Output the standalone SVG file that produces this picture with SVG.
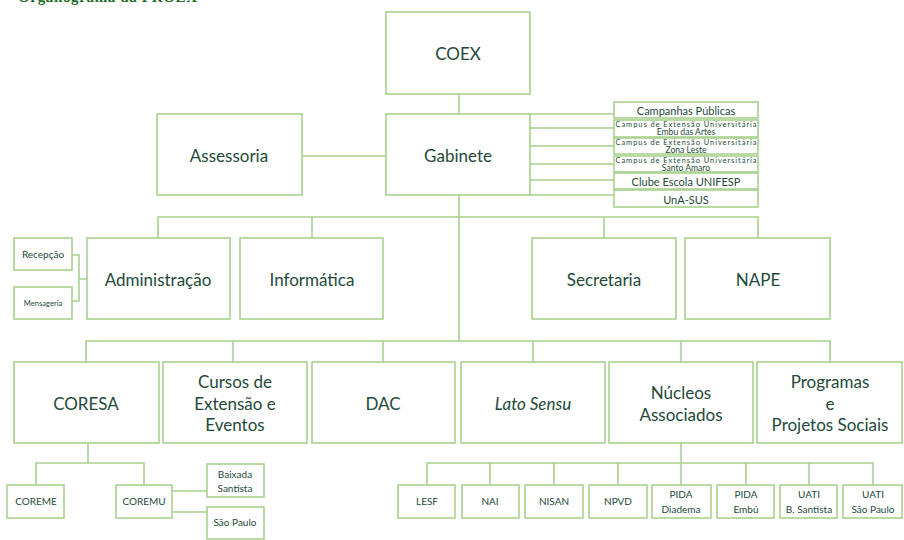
<svg xmlns="http://www.w3.org/2000/svg" width="904" height="540" viewBox="0 0 904 540">
<style>
.b{fill:#fff;stroke:#a9d18e;stroke-width:1.6}
.c{fill:none;stroke:#a9d18e;stroke-width:1.6}
text{font-family:Lato,"Open Sans","Liberation Sans",sans-serif;fill:#24493a;text-anchor:middle;dominant-baseline:central}
.L{font-size:17px}
.m{font-size:11px}
.s{font-size:10px}
.t{font-size:7.4px}
.u{font-size:8.6px}
</style>
<rect width="904" height="540" fill="#fff"/>
<text x="18" y="2" style="font-family:'Liberation Serif','DejaVu Serif',serif;font-weight:bold;font-size:15px;fill:#1c6a26;text-anchor:start;dominant-baseline:alphabetic" textLength="179">Organograma da PROEX</text>
<g id="connectors">
<path class="c" d="M459 94V114M302 156H386M459 195V341M530 114H614M530 128H614M530 146H614M530 164H614M530 180H614M530 195H614"/>
<path class="c" d="M158 238V217H758V238M312 217V238M604 217V238"/>
<path class="c" d="M72 255H79V301H72M79 279H87"/>
<path class="c" d="M86 362V341H830V362M233 341V362M383 341V362M533 341V362M681 341V362"/>
<path class="c" d="M88 443V463M36 485V463H144V485M172 491H207M172 512H207"/>
<path class="c" d="M681 443V463M427 485V463H873V485M490 463V485M554 463V485M618 463V485M681 463V485M746 463V485M809 463V485"/>
</g>
<g id="coex"><rect class="b" x="386" y="12" width="144" height="82"/><text class="L" x="458" y="53">COEX</text></g>
<g id="assessoria"><rect class="b" x="157" y="114" width="145" height="81"/><text class="L" x="229" y="155">Assessoria</text></g>
<g id="gabinete"><rect class="b" x="386" y="114" width="144" height="81"/><text class="L" x="458" y="155">Gabinete</text></g>
<g id="campanhas"><rect class="b" x="614" y="102" width="144" height="16"/><text class="m" x="686" y="110">Campanhas Públicas</text></g>
<g id="campus-embu"><rect class="b" x="614" y="120" width="144" height="17"/><text class="t" x="686" y="124" textLength="141">Campus de Extensão Universitária</text><text class="u" x="686" y="131.5">Embu das Artes</text></g>
<g id="campus-zl"><rect class="b" x="614" y="138" width="144" height="16"/><text class="t" x="686" y="142" textLength="141">Campus de Extensão Universitária</text><text class="u" x="686" y="149.5">Zona Leste</text></g>
<g id="campus-sa"><rect class="b" x="614" y="156" width="144" height="16"/><text class="t" x="686" y="160" textLength="141">Campus de Extensão Universitária</text><text class="u" x="686" y="167.5">Santo Amaro</text></g>
<g id="clube"><rect class="b" x="614" y="173" width="144" height="16"/><text class="m" x="686" y="181">Clube Escola UNIFESP</text></g>
<g id="unasus"><rect class="b" x="614" y="190" width="144" height="17"/><text class="m" x="686" y="199">UnA-SUS</text></g>
<g id="recepcao"><rect class="b" x="14" y="238" width="58" height="32"/><text class="s" x="43" y="254">Recepção</text></g>
<g id="mensageria"><rect class="b" x="14" y="287" width="58" height="32"/><text x="43" y="303" style="font-size:7.6px">Mensageria</text></g>
<g id="administracao"><rect class="b" x="87" y="238" width="143" height="81"/><text class="L" x="158" y="279">Administração</text></g>
<g id="informatica"><rect class="b" x="240" y="238" width="143" height="81"/><text class="L" x="312" y="279">Informática</text></g>
<g id="secretaria"><rect class="b" x="532" y="238" width="144" height="81"/><text class="L" x="604" y="279">Secretaria</text></g>
<g id="nape"><rect class="b" x="685" y="238" width="145" height="81"/><text class="L" x="758" y="279">NAPE</text></g>
<g id="coresa"><rect class="b" x="14" y="362" width="145" height="81"/><text class="L" x="86" y="403">CORESA</text></g>
<g id="cursos"><rect class="b" x="163" y="362" width="144" height="81"/><text class="L" x="235" y="381">Cursos de</text><text class="L" x="235" y="403">Extensão e</text><text class="L" x="235" y="424">Eventos</text></g>
<g id="dac"><rect class="b" x="312" y="362" width="143" height="81"/><text class="L" x="383" y="403">DAC</text></g>
<g id="lato"><rect class="b" x="461" y="362" width="144" height="81"/><text class="L" x="533" y="403" font-style="italic">Lato Sensu</text></g>
<g id="nucleos"><rect class="b" x="609" y="362" width="144" height="81"/><text class="L" x="681" y="392">Núcleos</text><text class="L" x="681" y="414">Associados</text></g>
<g id="programas"><rect class="b" x="757" y="362" width="145" height="81"/><text class="L" x="830" y="381">Programas</text><text class="L" x="830" y="403">e</text><text class="L" x="830" y="424">Projetos Sociais</text></g>
<g id="coreme"><rect class="b" x="7" y="485" width="57" height="33"/><text class="s" x="36" y="501">COREME</text></g>
<g id="coremu"><rect class="b" x="116" y="485" width="56" height="33"/><text class="s" x="144" y="501">COREMU</text></g>
<g id="baixada"><rect class="b" x="207" y="464" width="57" height="33"/><text class="s" x="235" y="474">Baixada</text><text class="s" x="235" y="488">Santista</text></g>
<g id="saopaulo"><rect class="b" x="207" y="507" width="57" height="32"/><text class="s" x="235" y="522">São Paulo</text></g>
<g id="lesf"><rect class="b" x="398" y="485" width="57" height="33"/><text class="s" x="427" y="501">LESF</text></g>
<g id="nai"><rect class="b" x="462" y="485" width="57" height="33"/><text class="s" x="490" y="501">NAI</text></g>
<g id="nisan"><rect class="b" x="525" y="485" width="58" height="33"/><text class="s" x="554" y="501">NISAN</text></g>
<g id="npvd"><rect class="b" x="589" y="485" width="58" height="33"/><text class="s" x="618" y="501">NPVD</text></g>
<g id="pida-diadema"><rect class="b" x="652" y="485" width="59" height="33"/><text class="s" x="681" y="494">PIDA</text><text class="s" x="681" y="509">Diadema</text></g>
<g id="pida-embu"><rect class="b" x="717" y="485" width="57" height="33"/><text class="s" x="746" y="494">PIDA</text><text class="s" x="746" y="509">Embú</text></g>
<g id="uati-bs"><rect class="b" x="780" y="485" width="57" height="33"/><text class="s" x="809" y="494">UATI</text><text class="s" x="809" y="509">B. Santista</text></g>
<g id="uati-sp"><rect class="b" x="843" y="485" width="59" height="33"/><text class="s" x="873" y="494">UATI</text><text class="s" x="873" y="509">São Paulo</text></g>
</svg>
